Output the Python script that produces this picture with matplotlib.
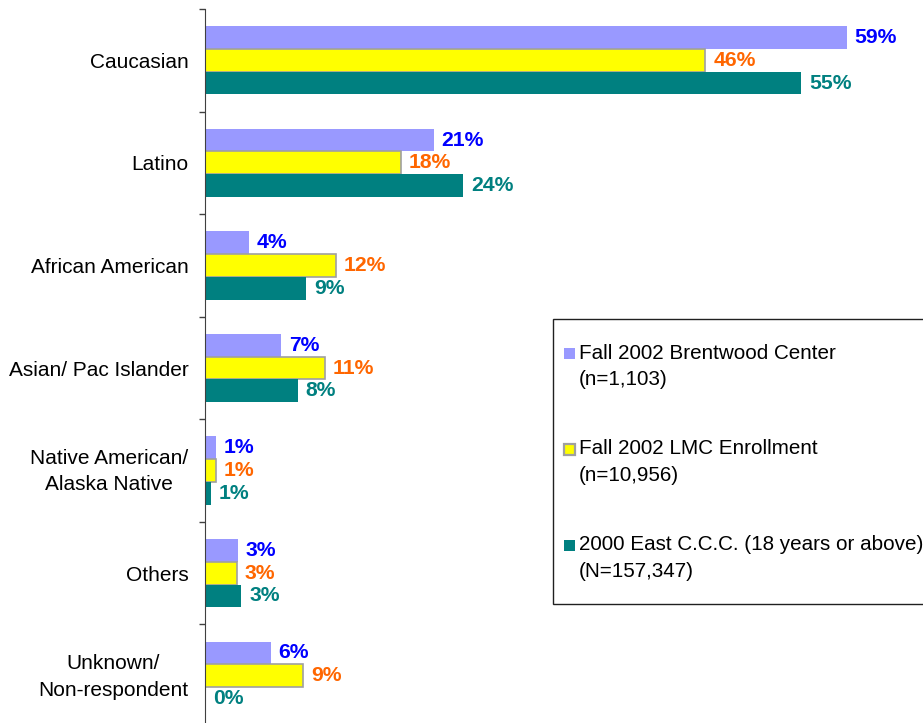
import numpy as np
import matplotlib
matplotlib.use('Agg')
import matplotlib.pyplot as plt
from matplotlib.patches import Rectangle
from matplotlib.transforms import ScaledTranslation

plt.rcParams['font.family'] = ['Liberation Sans', 'DejaVu Sans']

categories = ['Caucasian', 'Latino', 'African American', 'Asian/ Pac Islander',
              'Native American/\nAlaska Native', 'Others', 'Unknown/\nNon-respondent']
brentwood = [59.0, 21.0, 4.0, 7.0, 0.95, 3.0, 6.0]
lmc = [46.0, 18.0, 12.0, 11.0, 0.95, 2.9, 9.0]
east = [54.8, 23.7, 9.3, 8.5, 0.5, 3.3, 0.0]
brentwood_lbl = ['59%', '21%', '4%', '7%', '1%', '3%', '6%']
lmc_lbl = ['46%', '18%', '12%', '11%', '1%', '3%', '9%']
east_lbl = ['55%', '24%', '9%', '8%', '1%', '3%', '0%']
legend_names = ['Fall 2002 Brentwood Center\n(n=1,103)',
                'Fall 2002 LMC Enrollment\n(n=10,956)',
                '2000 East C.C.C. (18 years or above)\n(N=157,347)']

bar_colors = ['#9999ff', '#ffff00', '#008080']
edge_colors = ['none', '#a0a0a0', 'none']
text_colors = ['#0000ff', '#ff6600', '#008080']

W, H = 923, 723
fig = plt.figure(figsize=(W / 100, H / 100), dpi=100)
ax = fig.add_axes([205.3 / W, (H - 727) / H, 1 - 205.3 / W, 718 / H])

y = np.arange(len(categories))
bh = 0.222
series = [(brentwood, brentwood_lbl), (lmc, lmc_lbl), (east, east_lbl)]
for i, (vals, lbls) in enumerate(series):
    pos = y + (i - 1) * bh
    ax.barh(pos, vals, height=bh, color=bar_colors[i], edgecolor=edge_colors[i],
            linewidth=1.2 if i == 1 else 0)
    for v, p, t in zip(vals, pos, lbls):
        ax.annotate(t, (v, p), xytext=(5.8, 0), textcoords='offset points',
                    va='center', ha='left', fontsize=15.2, fontweight='bold',
                    color=text_colors[i])

ax.set_xlim(0, (W - 205.3) / 10.87)
ax.set_ylim(len(categories) - 0.5, -0.5)
for s in ['top', 'right', 'bottom']:
    ax.spines[s].set_visible(False)
ax.spines['left'].set_color('#404040')
ax.set_xticks([])
ax.set_yticks(np.arange(len(categories) + 1) - 0.5)
ax.set_yticklabels([])
ax.tick_params(axis='y', which='major', length=4.3, color='#404040', width=1)
ax.set_yticks(y, minor=True)
ax.set_yticklabels(categories, minor=True, fontsize=15.0)
ax.tick_params(axis='y', which='minor', length=0, pad=12.2)
shift_up = ScaledTranslation(0, 0.05, fig.dpi_scale_trans)
for lab in ax.get_yticklabels(minor=True):
    lab.set_multialignment('center')
    lab.set_linespacing(1.52)
    if '\n' in lab.get_text():
        lab.set_transform(lab.get_transform() + shift_up)

# legend box, cut off by the right edge like the original
fig.add_artist(Rectangle((552.7 / W, (H - 604) / H), 0.5, 285 / H,
                         transform=fig.transFigure, facecolor='white',
                         edgecolor='#202020', linewidth=1))
first_lines = [353, 449, 545]
for i, name in enumerate(legend_names):
    yc = first_lines[i]
    fig.add_artist(Rectangle((564 / W, (H - yc - 5.5) / H), 11 / W, 11 / H,
                             transform=fig.transFigure, facecolor=bar_colors[i],
                             edgecolor=edge_colors[i], linewidth=1.6))
    for k, line in enumerate(name.split('\n')):
        fig.text(579 / W, (H - yc - k * 26.5) / H, line, fontsize=14.9,
                 va='center', ha='left')

fig.savefig('out.png', dpi=100)
